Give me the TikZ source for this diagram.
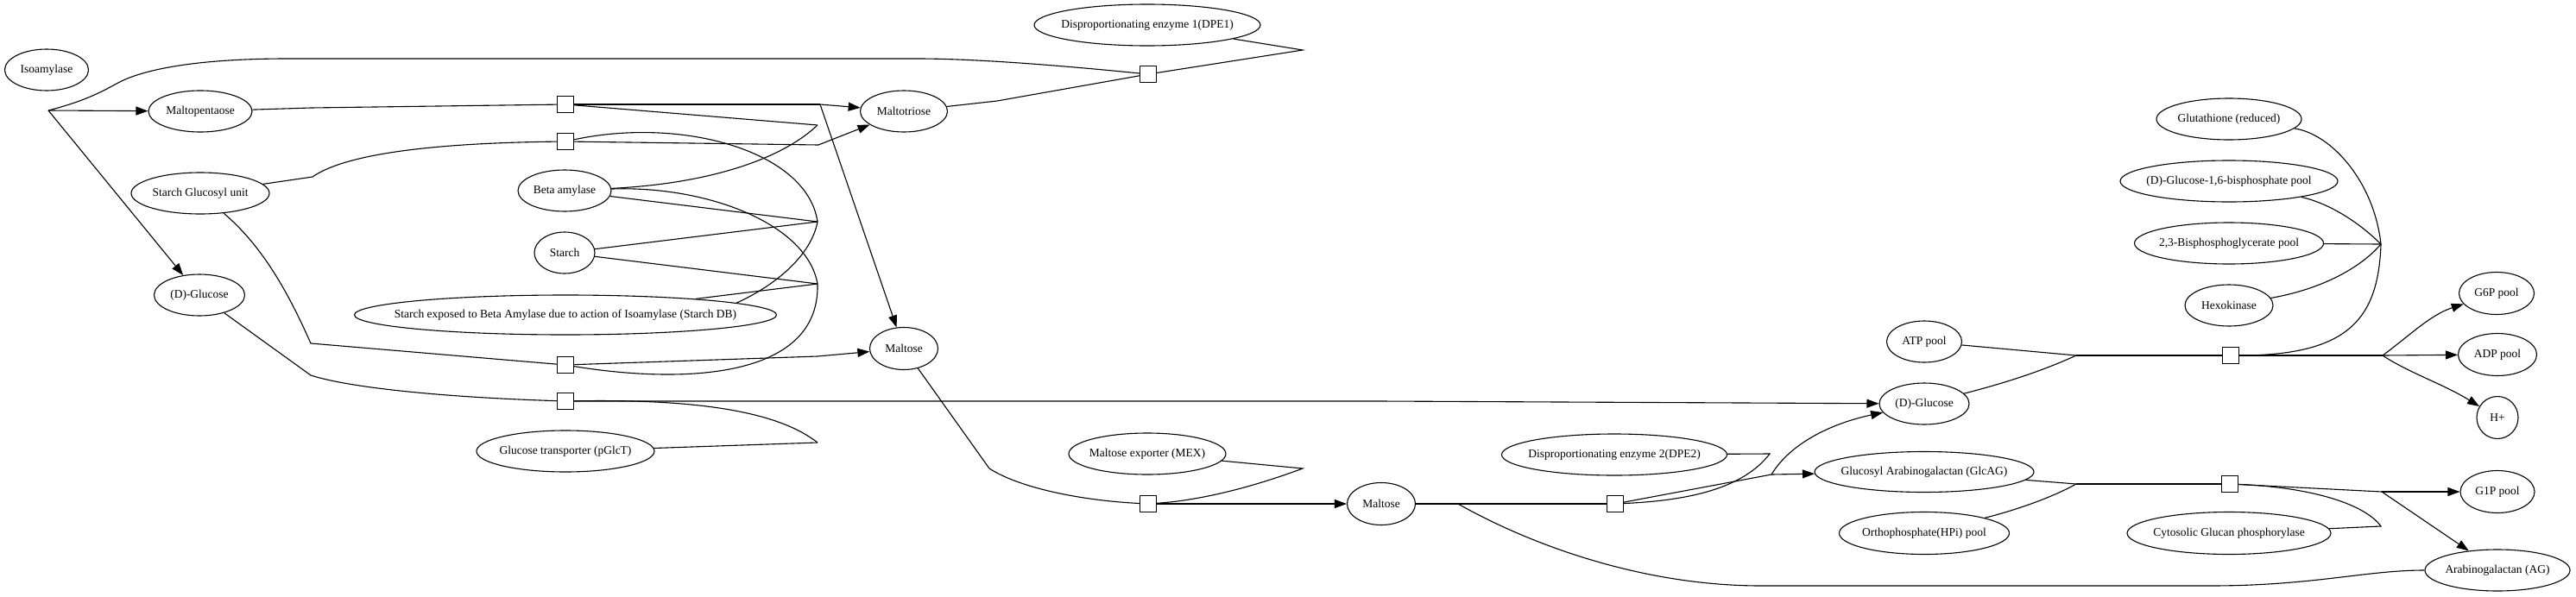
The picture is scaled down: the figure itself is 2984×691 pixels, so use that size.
\documentclass[tikz,border=0pt]{standalone}
\usepackage{fontspec}
\setmainfont{Liberation Serif}
\usetikzlibrary{shapes.geometric,arrows.meta}
\newcommand\nlab[1]{\makebox[0pt]{#1}}
\begin{document}
\begin{tikzpicture}[x=1pt,y=-1pt,
  every node/.style={font=\fontsize{13.5}{15}\selectfont},
  ell/.style={ellipse,draw,line width=1.1pt,inner sep=0pt,minimum height=48pt},
  rxn/.style={rectangle,draw,line width=1.1pt,minimum width=19pt,minimum height=19pt,inner sep=0pt,fill=white},
  conn/.style={line width=1.1pt},
  arr/.style={conn,-{Triangle[length=14pt,width=10pt]}},
]
\fill[white] (0,0) rectangle (2984,691);
\useasboundingbox (0,0) rectangle (2984,691);

% ---------- nodes ----------
\node[ell,minimum width=97pt] (iso) at (54,81) {\nlab{Isoamylase}};
\node[ell,minimum width=120pt] (mpent) at (232,129) {\nlab{Maltopentaose}};
\node[ell,minimum width=160pt] (sgu) at (232,224) {\nlab{Starch Glucosyl unit}};
\node[ell,minimum width=105pt] (dglcA) at (231,342) {\nlab{(D)-Glucose}};
\node[ell,minimum width=108pt] (ba) at (654,221) {\nlab{Beta amylase}};
\node[ell,minimum width=70pt] (starch) at (654,293) {\nlab{Starch}};
\node[ell,minimum width=489pt,minimum height=46pt] (sdb) at (655,365) {\nlab{Starch exposed to Beta Amylase due to action of Isoamylase (Starch DB)}};
\node[ell,minimum width=206pt] (pglct) at (655,523) {\nlab{Glucose transporter (pGlcT)}};
\node[ell,minimum width=262pt] (dpe1) at (1329,29) {\nlab{Disproportionating enzyme 1(DPE1)}};
\node[ell,minimum width=101pt] (mtri) at (1047,129) {\nlab{Maltotriose}};
\node[ell,minimum width=79pt,minimum height=49pt] (maltA) at (1047,404) {\nlab{Maltose}};
\node[ell,minimum width=182pt] (mex) at (1329,526) {\nlab{Maltose exporter (MEX)}};
\node[ell,minimum width=79pt,minimum height=49pt] (maltB) at (1600,584) {\nlab{Maltose}};
\node[ell,minimum width=261pt] (dpe2) at (1870,527) {\nlab{Disproportionating enzyme 2(DPE2)}};
\node[ell,minimum width=254pt,minimum height=47pt] (glcag) at (2229,547) {\nlab{Glucosyl Arabinogalactan (GlcAG)}};
\node[ell,minimum width=197pt,minimum height=49pt] (hpi) at (2229,618) {\nlab{Orthophosphate(HPi) pool}};
\node[ell,minimum width=87pt] (atp) at (2229,396) {\nlab{ATP pool}};
\node[ell,minimum width=104pt] (dglcB) at (2229,468) {\nlab{(D)-Glucose}};
\node[ell,minimum width=168pt] (glut) at (2582,138) {\nlab{Glutathione (reduced)}};
\node[ell,minimum width=252pt] (gbp) at (2582,210) {\nlab{(D)-Glucose-1,6-bisphosphate pool}};
\node[ell,minimum width=219pt] (bpg) at (2582,282) {\nlab{2,3-Bisphosphoglycerate pool}};
\node[ell,minimum width=102pt] (hexo) at (2582,354) {\nlab{Hexokinase}};
\node[ell,minimum width=236pt,minimum height=49pt] (cgp) at (2582,618) {\nlab{Cytosolic Glucan phosphorylase}};
\node[ell,minimum width=87pt,minimum height=49pt] (g6p) at (2892,340) {\nlab{G6P pool}};
\node[ell,minimum width=91pt,minimum height=49pt] (adp) at (2893,411) {\nlab{ADP pool}};
\node[ell,minimum width=48pt,minimum height=49pt] (hp) at (2893,484) {\nlab{H+}};
\node[ell,minimum width=86pt,minimum height=49pt] (g1p) at (2893,570) {\nlab{G1P pool}};
\node[ell,minimum width=168pt] (ag) at (2893,661) {\nlab{Arabinogalactan (AG)}};

% reaction squares
\node[rxn] (sq1) at (655,121) {};
\node[rxn] (sq2) at (655,164) {};
\node[rxn] (sq3) at (655,423) {};
\node[rxn] (sq4) at (655,465) {};
\node[rxn] (sq5) at (1330,86) {};
\node[rxn] (sq9) at (1330,584) {};
\node[rxn] (sq8) at (1871,584) {};
\node[rxn] (sq6) at (2584,412) {};
\node[rxn] (sq7) at (2583,561) {};

% junction points
\coordinate (P) at (56,128);
\coordinate (A) at (947,145);
\coordinate (Pa) at (950,121);
\coordinate (B) at (947,257);
\coordinate (C) at (947,329);
\coordinate (Pb) at (948,168);
\coordinate (Pc) at (947,413);
\coordinate (Pg) at (947,513);
\coordinate (Ra) at (360,125);
\coordinate (Rb) at (362,205);
\coordinate (Rc) at (360,398);
\coordinate (Rd) at (360,435);
\coordinate (D1) at (1509,58);
\coordinate (Mt) at (1155,117);
\coordinate (Tp) at (1063,68);
\coordinate (Tq) at (333,68);
\coordinate (Mx) at (1146,543);
\coordinate (Dm) at (1509,543);
\coordinate (Mo) at (1509,584);
\coordinate (Gx) at (1598,465);
\coordinate (Q) at (1689,584);
\coordinate (R8) at (2052,550);
\coordinate (D2) at (2050,526);
\coordinate (E) at (2405,412);
\coordinate (F) at (2760,412);
\coordinate (J) at (2758,283);
\coordinate (G) at (2405,561);
\coordinate (H) at (2759,570);
\coordinate (K) at (2758,610);
\coordinate (Ab) at (2560,679);
\coordinate (Aa) at (2040,679);

% ---------- connectors ----------
% DPE1 reaction
\draw[conn] (sq5) .. controls (1230,76) and (1130,68) .. (Tp) -- (Tq)
  .. controls (230,68) and (165,80) .. (135,97) .. controls (115,108) and (95,118) .. (P);
\draw[arr] (P) -- (mpent);
\draw[arr] (P) -- (dglcA);
\draw[conn] (mtri) -- (Mt) -- (sq5);
\draw[conn] (dpe1) -- (D1) -- (sq5);

% reaction 1
\draw[conn] (mpent) -- (Ra) -- (sq1);
\draw[conn] (A) -- (sq1);
\draw[conn] (sq1) -- (Pa);
\draw[arr] (Pa) -- (mtri);
\draw[arr] (Pa) -- (maltA);
\draw[conn] (ba) .. controls (820,213) and (905,185) .. (A);

% reaction 2
\draw[conn] (sgu) -- (Rb) .. controls (395,182) and (480,166) .. (sq2);
\draw[conn] (sq2) -- (Pb);
\draw[arr] (Pb) -- (mtri);
\draw[conn] (B) .. controls (935,175) and (790,135) .. (sq2);
\draw[conn] (ba) -- (B);
\draw[conn] (starch) -- (B);
\draw[conn] (sdb.4) .. controls (900,330) and (940,295) .. (B);

% reaction 3
\draw[conn] (starch) -- (C);
\draw[conn] (sdb) -- (C);
\draw[conn] (ba) .. controls (820,215) and (935,260) .. (C);
\draw[conn] (C) .. controls (950,440) and (790,445) .. (sq3);
\draw[conn] (sgu) .. controls (300,282) and (330,330) .. (Rc) -- (sq3);
\draw[conn] (sq3) -- (Pc);
\draw[arr] (Pc) -- (maltA);

% reaction 4 (glucose transport)
\draw[conn] (dglcA) -- (Rd) .. controls (400,448) and (500,460) .. (sq4);
\draw[conn] (pglct) -- (Pg);
\draw[conn] (Pg) .. controls (905,480) and (820,462) .. (sq4);
\draw[arr] (sq4) -- (Gx) -- (dglcB);

% maltose export
\draw[conn] (maltA) -- (Mx) .. controls (1180,565) and (1250,580) .. (sq9);
\draw[conn] (mex) -- (Dm) .. controls (1450,565) and (1390,580) .. (sq9);
\draw[arr] (sq9) -- (Mo) -- (maltB);

% DPE2 reaction
\draw[conn] (maltB) -- (Q) -- (sq8);
\draw[conn] (ag) .. controls (2740,661) and (2680,679) .. (Ab) -- (Aa)
  .. controls (1900,679) and (1770,630) .. (Q);
\draw[conn] (dpe2) -- (D2) .. controls (2020,565) and (1960,580) .. (sq8);
\draw[conn] (sq8) -- (R8);
\draw[arr] (R8) -- (glcag);
\draw[arr] (R8) .. controls (2075,512) and (2125,490) .. (dglcB);

% hexokinase reaction
\draw[conn] (atp) -- (E);
\draw[conn] (dglcB) .. controls (2330,442) and (2370,428) .. (E);
\draw[conn] (E) -- (sq6);
\draw[conn] (sq6) -- (F);
\draw[arr] (F) .. controls (2790,390) and (2815,365) .. (g6p);
\draw[arr] (F) -- (adp);
\draw[arr] (F) .. controls (2790,432) and (2830,445) .. (hp);
\draw[conn] (glut) .. controls (2700,155) and (2750,210) .. (J);
\draw[conn] (gbp) .. controls (2700,236) and (2735,260) .. (J);
\draw[conn] (bpg) -- (J);
\draw[conn] (hexo) .. controls (2690,335) and (2735,310) .. (J);
\draw[conn] (J) .. controls (2755,370) and (2720,412) .. (sq6);

% glucan phosphorylase reaction
\draw[conn] (glcag) -- (G);
\draw[conn] (hpi) .. controls (2340,590) and (2380,575) .. (G);
\draw[conn] (G) -- (sq7);
\draw[conn] (sq7) -- (H);
\draw[arr] (H) -- (g1p);
\draw[arr] (H) -- (ag);
\draw[conn] (cgp) -- (K) .. controls (2740,585) and (2680,565) .. (sq7);
\end{tikzpicture}
\end{document}
